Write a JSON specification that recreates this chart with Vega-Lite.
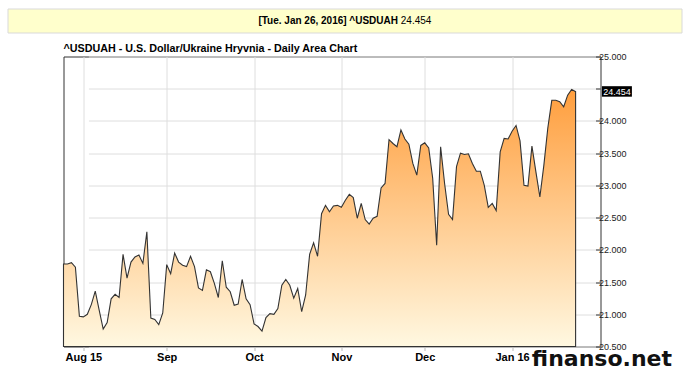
{
  "$schema": "https://vega.github.io/schema/vega-lite/v6.json",
  "background": "white",
  "padding": {"left": 6.5, "top": 7.5, "right": 2, "bottom": 2},
  "config": {"font": "Liberation Sans", "view": {"stroke": null}},
  "title": {"text": "finanso.net", "orient": "bottom", "anchor": "end", "font": "DejaVu Sans", "fontSize": 22, "fontWeight": "bold", "color": "#111111", "offset": -14, "dx": -10},
  "spacing": 8,
  "datasets": {
    "banner": [{"stamp": "[Tue. Jan 26, 2016] ^USDUAH", "last": "24.454"}],
    "usduah": [
      {"date": "2015-07-27", "close": 21.78},
      {"date": "2015-07-28", "close": 21.78},
      {"date": "2015-07-29", "close": 21.80},
      {"date": "2015-07-30", "close": 21.73},
      {"date": "2015-07-31", "close": 20.97},
      {"date": "2015-08-03", "close": 20.96},
      {"date": "2015-08-04", "close": 21.00},
      {"date": "2015-08-05", "close": 21.15},
      {"date": "2015-08-06", "close": 21.36},
      {"date": "2015-08-07", "close": 21.06},
      {"date": "2015-08-10", "close": 20.77},
      {"date": "2015-08-11", "close": 20.87},
      {"date": "2015-08-12", "close": 21.24},
      {"date": "2015-08-13", "close": 21.31},
      {"date": "2015-08-14", "close": 21.26},
      {"date": "2015-08-17", "close": 21.93},
      {"date": "2015-08-18", "close": 21.56},
      {"date": "2015-08-19", "close": 21.81},
      {"date": "2015-08-20", "close": 21.89},
      {"date": "2015-08-21", "close": 21.92},
      {"date": "2015-08-24", "close": 21.79},
      {"date": "2015-08-25", "close": 22.28},
      {"date": "2015-08-26", "close": 20.94},
      {"date": "2015-08-27", "close": 20.92},
      {"date": "2015-08-28", "close": 20.84},
      {"date": "2015-08-31", "close": 21.02},
      {"date": "2015-09-01", "close": 21.77},
      {"date": "2015-09-02", "close": 21.63},
      {"date": "2015-09-03", "close": 21.95},
      {"date": "2015-09-04", "close": 21.81},
      {"date": "2015-09-07", "close": 21.76},
      {"date": "2015-09-08", "close": 21.74},
      {"date": "2015-09-09", "close": 21.90},
      {"date": "2015-09-10", "close": 21.74},
      {"date": "2015-09-11", "close": 21.41},
      {"date": "2015-09-14", "close": 21.37},
      {"date": "2015-09-15", "close": 21.69},
      {"date": "2015-09-16", "close": 21.66},
      {"date": "2015-09-17", "close": 21.48},
      {"date": "2015-09-18", "close": 21.26},
      {"date": "2015-09-21", "close": 21.83},
      {"date": "2015-09-22", "close": 21.42},
      {"date": "2015-09-23", "close": 21.35},
      {"date": "2015-09-24", "close": 21.14},
      {"date": "2015-09-25", "close": 21.16},
      {"date": "2015-09-28", "close": 21.54},
      {"date": "2015-09-29", "close": 21.24},
      {"date": "2015-09-30", "close": 21.15},
      {"date": "2015-10-01", "close": 20.85},
      {"date": "2015-10-02", "close": 20.81},
      {"date": "2015-10-05", "close": 20.74},
      {"date": "2015-10-06", "close": 20.95},
      {"date": "2015-10-07", "close": 21.01},
      {"date": "2015-10-08", "close": 21.00},
      {"date": "2015-10-09", "close": 21.09},
      {"date": "2015-10-12", "close": 21.45},
      {"date": "2015-10-13", "close": 21.54},
      {"date": "2015-10-14", "close": 21.45},
      {"date": "2015-10-15", "close": 21.25},
      {"date": "2015-10-16", "close": 21.40},
      {"date": "2015-10-19", "close": 21.04},
      {"date": "2015-10-20", "close": 21.30},
      {"date": "2015-10-21", "close": 21.93},
      {"date": "2015-10-22", "close": 22.11},
      {"date": "2015-10-23", "close": 21.90},
      {"date": "2015-10-26", "close": 22.56},
      {"date": "2015-10-27", "close": 22.69},
      {"date": "2015-10-28", "close": 22.59},
      {"date": "2015-10-29", "close": 22.68},
      {"date": "2015-10-30", "close": 22.69},
      {"date": "2015-11-02", "close": 22.66},
      {"date": "2015-11-03", "close": 22.77},
      {"date": "2015-11-04", "close": 22.86},
      {"date": "2015-11-05", "close": 22.81},
      {"date": "2015-11-06", "close": 22.49},
      {"date": "2015-11-09", "close": 22.72},
      {"date": "2015-11-10", "close": 22.47},
      {"date": "2015-11-11", "close": 22.40},
      {"date": "2015-11-12", "close": 22.49},
      {"date": "2015-11-13", "close": 22.52},
      {"date": "2015-11-16", "close": 22.96},
      {"date": "2015-11-17", "close": 23.03},
      {"date": "2015-11-18", "close": 23.71},
      {"date": "2015-11-19", "close": 23.65},
      {"date": "2015-11-20", "close": 23.60},
      {"date": "2015-11-23", "close": 23.86},
      {"date": "2015-11-24", "close": 23.72},
      {"date": "2015-11-25", "close": 23.64},
      {"date": "2015-11-26", "close": 23.34},
      {"date": "2015-11-27", "close": 23.16},
      {"date": "2015-11-30", "close": 23.62},
      {"date": "2015-12-01", "close": 23.66},
      {"date": "2015-12-02", "close": 23.58},
      {"date": "2015-12-03", "close": 23.11},
      {"date": "2015-12-04", "close": 22.07},
      {"date": "2015-12-07", "close": 23.60},
      {"date": "2015-12-08", "close": 23.03},
      {"date": "2015-12-09", "close": 22.55},
      {"date": "2015-12-10", "close": 22.47},
      {"date": "2015-12-11", "close": 23.29},
      {"date": "2015-12-14", "close": 23.50},
      {"date": "2015-12-15", "close": 23.48},
      {"date": "2015-12-16", "close": 23.49},
      {"date": "2015-12-17", "close": 23.34},
      {"date": "2015-12-18", "close": 23.22},
      {"date": "2015-12-21", "close": 23.22},
      {"date": "2015-12-22", "close": 23.00},
      {"date": "2015-12-23", "close": 22.66},
      {"date": "2015-12-24", "close": 22.72},
      {"date": "2015-12-28", "close": 22.61},
      {"date": "2015-12-29", "close": 23.52},
      {"date": "2015-12-30", "close": 23.73},
      {"date": "2015-12-31", "close": 23.72},
      {"date": "2016-01-04", "close": 23.84},
      {"date": "2016-01-05", "close": 23.93},
      {"date": "2016-01-06", "close": 23.69},
      {"date": "2016-01-07", "close": 23.00},
      {"date": "2016-01-08", "close": 22.99},
      {"date": "2016-01-11", "close": 23.61},
      {"date": "2016-01-12", "close": 23.21},
      {"date": "2016-01-13", "close": 22.82},
      {"date": "2016-01-14", "close": 23.31},
      {"date": "2016-01-15", "close": 23.89},
      {"date": "2016-01-18", "close": 24.32},
      {"date": "2016-01-19", "close": 24.32},
      {"date": "2016-01-20", "close": 24.30},
      {"date": "2016-01-21", "close": 24.22},
      {"date": "2016-01-22", "close": 24.40},
      {"date": "2016-01-25", "close": 24.49},
      {"date": "2016-01-26", "close": 24.454}
    ]
  },
  "vconcat": [
    {
      "width": 674,
      "height": 24,
      "view": {"fill": "#ffffcc", "stroke": "#d9d9d9"},
      "data": {"name": "banner"},
      "layer": [
        {"mark": {"type": "text", "align": "right", "dx": 53.5, "dy": 0, "fontSize": 10, "fontWeight": "bold", "color": "#000000"}, "encoding": {"text": {"field": "stamp"}}},
        {"mark": {"type": "text", "align": "left", "dx": 56.3, "dy": 0, "fontSize": 10, "color": "#000000"}, "encoding": {"text": {"field": "last"}}}
      ]
    },
    {
      "spacing": 0,
      "hconcat": [
        {
          "width": 52,
          "height": 10,
          "view": {"fill": null, "stroke": "white"},
          "data": {"name": "banner"},
          "mark": {"type": "text", "opacity": 0},
          "encoding": {"text": {"field": "last"}}
        },
        {
          "width": 537,
          "height": 290,
          "view": {"fill": "white", "stroke": "#333333", "strokeWidth": 1},
          "title": {"text": "^USDUAH - U.S. Dollar/Ukraine Hryvnia - Daily Area Chart", "anchor": "start", "frame": "group", "fontSize": 10.75, "fontWeight": "bold", "color": "#000000", "offset": -2},
          "data": {"name": "usduah"},
          "resolve": {"axis": {"y": "independent"}},
          "layer": [
            {
              "mark": {
                "type": "area",
                "stroke": "#333333",
                "strokeWidth": 1.1,
                "fill": {"gradient": "linear", "x1": 0, "y1": 0, "x2": 0, "y2": 1, "stops": [{"offset": 0, "color": "#ff9e3d"}, {"offset": 1, "color": "#fff8e1"}]}
              },
              "encoding": {
                "x": {
                  "field": "date", "type": "ordinal",
                  "scale": {"type": "point", "padding": 0, "range": [0, 512.1]},
                  "axis": {
                    "values": ["2015-08-03", "2015-09-01", "2015-10-01", "2015-11-02", "2015-12-01", "2016-01-04"],
                    "labelExpr": "datum.value == '2015-08-03' ? 'Aug 15' : datum.value == '2015-09-01' ? 'Sep' : datum.value == '2015-10-01' ? 'Oct' : datum.value == '2015-11-02' ? 'Nov' : datum.value == '2015-12-01' ? 'Dec' : 'Jan 16'",
                    "title": null, "grid": true, "gridColor": "#dedede", "domain": false,
                    "ticks": true, "tickSize": 4, "tickColor": "#bbbbbb",
                    "labelFontSize": 11, "labelFontWeight": "bold", "labelColor": "#000000", "labelPadding": 1, "labelAngle": 0
                  }
                },
                "y": {
                  "field": "close", "type": "quantitative",
                  "scale": {"domain": [20.5, 25], "zero": false, "nice": false},
                  "axis": {
                    "orient": "right", "values": [20.5, 21, 21.5, 22, 22.5, 23, 23.5, 24, 24.5, 25],
                    "labelExpr": "datum.value == 24.5 ? '' : format(datum.value, '.3f')",
                    "title": null, "grid": true, "gridColor": "#dedede", "domain": false,
                    "ticks": true, "tickSize": -5, "tickColor": "#333333",
                    "labelPadding": 3, "labelFontSize": 9, "labelColor": "#222222"
                  }
                },
                "y2": {"datum": 20.5}
              }
            },
            {
              "transform": [{"filter": "datum.date == '2016-01-26'"}],
              "mark": {"type": "point", "shape": "M0.526,-0.11H1.126V0.1H0.526Z", "size": 10000, "filled": true, "color": "#000000", "opacity": 1},
              "encoding": {
                "x": {"field": "date", "type": "ordinal"},
                "y": {"field": "close", "type": "quantitative", "axis": null}
              }
            },
            {
              "transform": [{"filter": "datum.date == '2016-01-26'"}],
              "mark": {"type": "text", "align": "center", "dx": 41.5, "fontSize": 9, "color": "white"},
              "encoding": {
                "x": {"field": "date", "type": "ordinal"},
                "y": {"field": "close", "type": "quantitative", "axis": null},
                "text": {"field": "close", "format": ".3f"}
              }
            }
          ]
        }
      ]
    }
  ]
}
